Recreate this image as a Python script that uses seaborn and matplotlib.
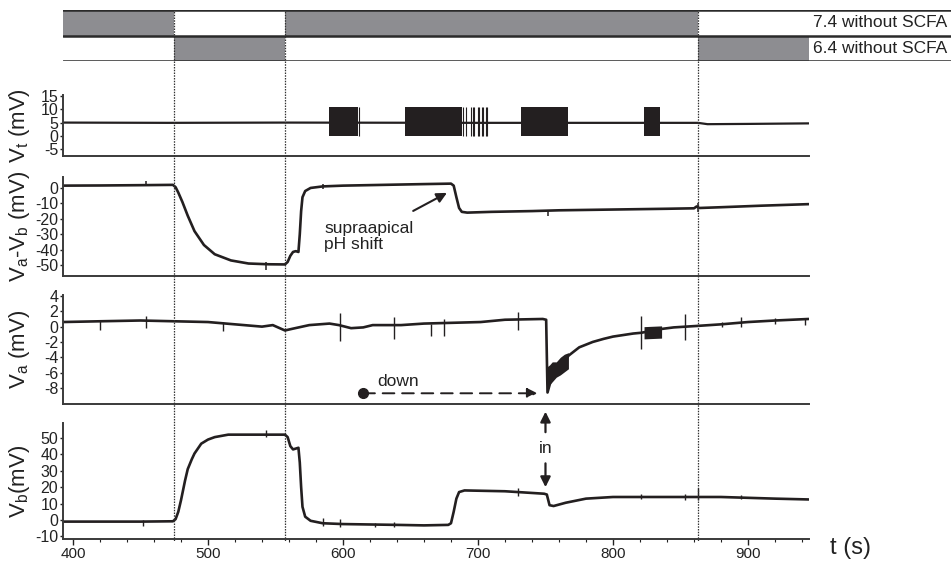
import matplotlib
matplotlib.use("Agg")
import matplotlib.pyplot as plt
import seaborn as sns

sns.set_theme(style="white")
plt.rcParams['font.family'] = ['Liberation Sans', 'DejaVu Sans']
plt.rcParams['mathtext.default'] = 'regular'
plt.rcParams['mathtext.fontset'] = 'custom'
plt.rcParams['mathtext.rm'] = 'Liberation Sans'

# ---------------- solution protocol ----------------
switch_times = [475, 557, 863]
ph74_start = [392, 557]
ph74_end = [475, 863]
ph64_start = [475, 863]
ph64_end = [557, 945]
row_labels = ["7.4 without SCFA", "6.4 without SCFA"]

# ---------------- transepithelial voltage Vt ----------------
vt_t = [392, 470, 557, 700, 863, 870, 900, 945]
vt_v = [5.0, 4.9, 5.0, 4.9, 4.9, 4.4, 4.5, 4.7]
burst_start = [590, 646, 732, 823]
burst_end = [611, 688, 767, 835]
burst_low = [0, 0, 0, 0]
burst_high = [11, 11, 11, 11]
burst_lines = [612, 689, 691, 695, 696, 697, 700, 701, 703, 704, 706, 707]

# ---------------- Va - Vb ----------------
d_t = [392, 420, 450, 474, 476, 478, 481, 485, 490, 497, 505, 517, 530, 545, 557,
       559, 561, 563, 565, 567, 568, 569, 570, 572, 576, 585, 600, 630, 660, 680,
       682, 684, 686, 688, 692, 710, 740, 760, 800, 840, 860, 862, 864, 880, 910, 945]
d_v = [1.5, 1.6, 1.8, 2.0, 0.5, -3, -9, -18, -28, -37, -43, -47, -49, -49.5, -49.6,
       -48, -44, -41.5, -41, -41.5, -30, -15, -6, -2, 0, 1, 1.5, 2, 2.5, 2.8,
       1.5, -6, -13, -15.5, -16, -15.5, -15, -14.5, -14, -13.5, -13.2, -12, -13, -12.5, -11.5, -10.5]
d_spk_t = [454, 543, 585, 752, 863]
d_spk_hi = [4.5, -48, 2.5, -14, -10]
d_spk_lo = [1.0, -53, -1.0, -18.5, -15.5]

# ---------------- apical voltage Va ----------------
va_t = [392, 420, 450, 475, 500, 520, 540, 548, 557, 562, 575, 590, 597, 606, 615,
        622, 643, 660, 702, 720, 748, 750.5, 751.5, 754, 760, 767, 775, 785, 793, 800,
        815, 821, 836, 845, 863, 880, 900, 920, 945]
va_v = [0.6, 0.7, 0.8, 0.7, 0.6, 0.3, 0.0, 0.2, -0.5, -0.3, 0.2, 0.4, 0.2, -0.2, -0.1,
        0.2, 0.2, 0.4, 0.6, 0.9, 1.0, 0.9, -8.6, -7.0, -5.8, -3.8, -2.7, -2.0, -1.6, -1.3,
        -0.9, -0.8, -0.3, -0.1, 0.1, 0.3, 0.6, 0.8, 1.0]
va_band_t = [751.5, 753, 755, 758, 761, 764, 767]
va_band_lo = [-8.6, -7.6, -7.2, -6.6, -6.3, -5.9, -5.5]
va_band_hi = [-5.2, -5.0, -4.6, -4.6, -4.0, -3.6, -3.4]
va_block_t = [823, 836]
va_block_lo = [-1.6, -1.5]
va_block_hi = [0.0, 0.1]
va_spk_t = [420, 454, 511, 598, 638, 665, 675, 730, 821, 853, 881, 895, 920, 942]
va_spk_hi = [0.7, 1.4, 0.6, 1.8, 1.3, 0.4, 1.0, 1.9, 1.4, 1.7, 0.6, 1.3, 1.1, 1.0]
va_spk_lo = [-0.5, -0.2, -0.6, -1.9, -1.6, -1.2, -1.2, -0.4, -2.9, -1.7, 0.0, -0.1, 0.4, 0.2]

# ---------------- basolateral voltage Vb ----------------
vb_t = [392, 420, 450, 474, 476, 478, 480, 483, 485, 488, 490, 495, 500, 505, 515,
        530, 557, 559, 561, 563, 565, 567, 568, 569, 570, 572, 576, 585, 600, 640,
        660, 678, 680, 682, 684, 686, 690, 720, 749, 751, 753, 756, 765, 780, 800,
        840, 860, 880, 920, 945]
vb_v = [-1, -1, -1, -0.8, 0.5, 5, 12, 24, 31, 37, 40.5, 46.5, 49, 50.5, 52,
        52, 52, 50.5, 45, 43, 43.5, 44, 35, 20, 8, 2, -0.5, -2, -2.5, -3,
        -3.3, -3, -2, 5, 13, 17, 18, 17.5, 16, 15.5, 9, 8.5, 10.5, 13, 14,
        14, 14, 14, 13, 12.5]
vb_spk_t = [452, 543, 585, 598, 624, 638, 730, 821, 853, 863, 895]
vb_spk_hi = [0, 55, 1, 0.5, -2.0, -1.5, 19.5, 16, 16, 19.5, 15]
vb_spk_lo = [-3.5, 50.5, -3.5, -4, -4.0, -4.5, 14.5, 12.5, 12, 12.2, 12.5]

# ---------------- layout (pixels) ----------------
W, H = 951, 561
XL, XR = 63, 809
T0, T1 = 392.6, 945.2
LINE = "#231f20"
GREY = "#8d8d91"


def box(left, top, right, bottom):
    return [left / W, 1 - bottom / H, (right - left) / W, (bottom - top) / H]


fig = plt.figure(figsize=(W / 100, H / 100), dpi=100)
fig.patch.set_facecolor("white")


def style_panel(ax, ylim, ticks, label, show_x=False):
    ax.set_xlim(T0, T1)
    ax.set_ylim(*ylim)
    ax.set_facecolor("none")
    for s in ("top", "right"):
        ax.spines[s].set_visible(False)
    for s in ("left", "bottom"):
        ax.spines[s].set_color("#3a3a3a")
        ax.spines[s].set_linewidth(1.4)
    ax.set_yticks(ticks)
    ax.set_yticklabels([str(t) for t in ticks])
    ax.tick_params(axis="y", which="both", left=True, direction="out", length=2.5,
                   width=1, pad=1, labelsize=11.5, colors="#222222", labelcolor="#222222")
    if show_x:
        ax.set_xticks([400, 500, 600, 700, 800, 900])
        ax.set_xticks(list(range(420, 945, 20)), minor=True)
        ax.tick_params(axis="x", which="major", bottom=True, direction="out", length=4.5,
                       width=1, pad=1.5, labelsize=11, colors="#222222")
        ax.tick_params(axis="x", which="minor", bottom=True, direction="out", length=2.5,
                       width=0.8, colors="#222222")
    else:
        ax.set_xticks([])
    ax.set_xlabel("")
    ax.set_ylabel(label, fontsize=16, color="#222222")
    ax.yaxis.set_label_coords(-0.041, 0.5)


def trace(ax, t, v, lw=1.9):
    sns.lineplot(x=t, y=v, ax=ax, color=LINE, lw=lw, estimator=None, sort=False)


# ---- Vt ----
ax_vt = fig.add_axes(box(XL, 95, XR, 156))
trace(ax_vt, vt_t, vt_v, lw=1.6)
for s, e, lo, hi in zip(burst_start, burst_end, burst_low, burst_high):
    ax_vt.fill_between([s, e], [lo, lo], [hi, hi], color=LINE, lw=0)
ax_vt.vlines(burst_lines, 0, 11, color=LINE, lw=0.8)
style_panel(ax_vt, (-7.6, 15.4), [15, 10, 5, 0, -5], r"V$_t$ (mV)")

# ---- Va - Vb ----
ax_d = fig.add_axes(box(XL, 177, XR, 276))
trace(ax_d, d_t, d_v)
ax_d.vlines(d_spk_t, d_spk_lo, d_spk_hi, color=LINE, lw=1.1)
style_panel(ax_d, (-57.1, 7.1), [0, -10, -20, -30, -40, -50], r"V$_a$-V$_b$ (mV)")
ax_d.annotate("", xy=(677, -3.2), xytext=(652, -14.9),
              arrowprops=dict(arrowstyle="-|>", color=LINE, lw=1.5, mutation_scale=15,
                              shrinkA=0, shrinkB=0))
ax_d.text(586, -31.5, "supraapical\npH shift", ha="left", va="center", fontsize=12.5,
          color="#222222", linespacing=1.15)

# ---- Va ----
ax_va = fig.add_axes(box(XL, 295, XR, 404))
trace(ax_va, va_t, va_v)
ax_va.fill_between(va_band_t, va_band_lo, va_band_hi, color=LINE, lw=0)
ax_va.fill_between(va_block_t, va_block_lo, va_block_hi, color=LINE, lw=0)
ax_va.vlines(va_spk_t, va_spk_lo, va_spk_hi, color=LINE, lw=1.0)
style_panel(ax_va, (-10.1, 4.13), [4, 2, 0, -2, -4, -6, -8], r"V$_a$ (mV)")
ax_va.plot([615], [-8.7], marker="o", ms=7, color=LINE)
ax_va.annotate("", xy=(744, -8.7), xytext=(615, -8.7),
               arrowprops=dict(arrowstyle="-|>", color=LINE, lw=1.4, ls=(0, (6, 4)),
                               mutation_scale=15, shrinkA=0, shrinkB=0))
ax_va.text(641, -7.1, "down", ha="center", va="center", fontsize=12.5, color="#222222")

# ---- Vb ----
ax_vb = fig.add_axes(box(XL, 423, XR, 539))
trace(ax_vb, vb_t, vb_v)
ax_vb.vlines(vb_spk_t, vb_spk_lo, vb_spk_hi, color=LINE, lw=1.0)
style_panel(ax_vb, (-11.6, 59.1), [50, 40, 30, 20, 10, 0, -10], r"V$_b$(mV)", show_x=True)
ax_vb.annotate("", xy=(750, 66.0), xytext=(750, 53.5),
               arrowprops=dict(arrowstyle="-|>", color=LINE, lw=1.6, mutation_scale=15,
                               shrinkA=0, shrinkB=0), annotation_clip=False)
ax_vb.annotate("", xy=(750, 20.0), xytext=(750, 34.5),
               arrowprops=dict(arrowstyle="-|>", color=LINE, lw=1.6, mutation_scale=15,
                               shrinkA=0, shrinkB=0), annotation_clip=False)
ax_vb.text(750, 43.8, "in", ha="center", va="center", fontsize=12.5, color="#222222")
fig.text(850 / W, 1 - 548 / H, "t (s)", ha="center", va="center", fontsize=17, color="#222222")

# ---- solution bars ----
ax_bar = fig.add_axes(box(XL, 10, W, 61))
t_right = T0 + (W - XL) * (T1 - T0) / (XR - XL)
ax_bar.set_xlim(T0, t_right)
ax_bar.set_ylim(0, 2)
ax_bar.barh([1.5] * len(ph74_start), [e - s for s, e in zip(ph74_start, ph74_end)],
            left=ph74_start, height=1.0, color=GREY, lw=0)
ax_bar.barh([0.5] * len(ph64_start), [e - s for s, e in zip(ph64_start, ph64_end)],
            left=ph64_start, height=1.0, color=GREY, lw=0)
for yv in (2, 1, 0):
    ax_bar.axhline(yv, color="#2a2a2a", lw=1.8)
ax_bar.text(0.996, 0.75, row_labels[0], transform=ax_bar.transAxes, ha="right",
            va="center", fontsize=12.5, color="#222222")
ax_bar.text(0.996, 0.25, row_labels[1], transform=ax_bar.transAxes, ha="right",
            va="center", fontsize=12.5, color="#222222")
ax_bar.axis("off")

# ---- solution change markers ----
ax_sw = fig.add_axes(box(XL, 10, XR, 541))
ax_sw.set_xlim(T0, T1)
ax_sw.set_ylim(0, 1)
for tv in switch_times:
    ax_sw.axvline(tv, color="#333333", lw=0.9, ls=(0, (1.2, 1.0)))
ax_sw.axis("off")

fig.savefig("out.png", dpi=100, facecolor="white")
